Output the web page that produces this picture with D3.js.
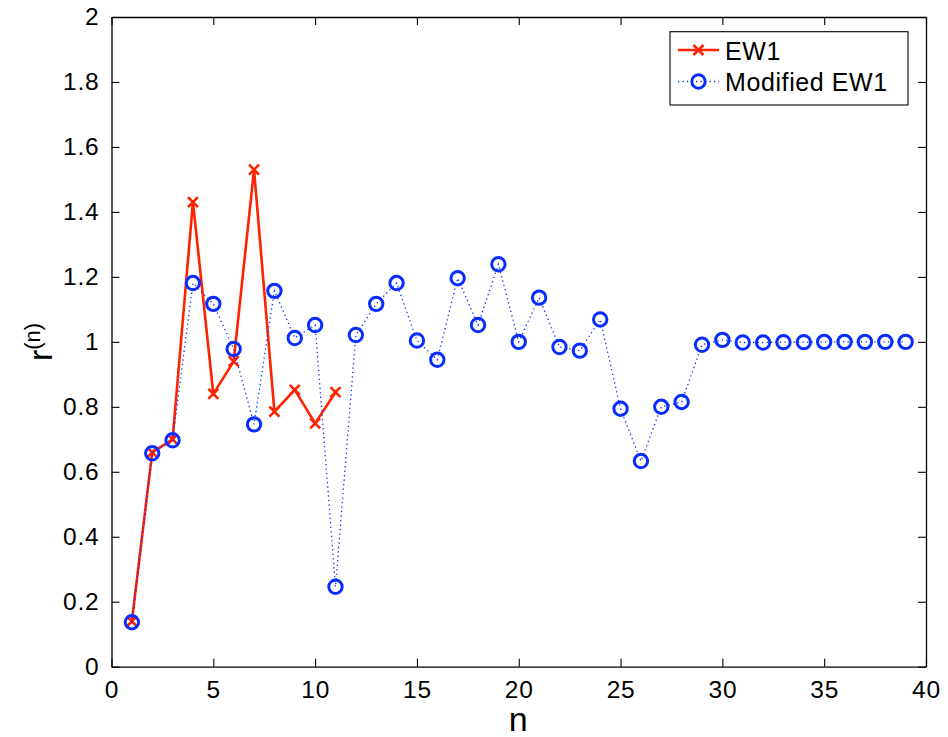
<!DOCTYPE html>
<html>
<head>
<meta charset="utf-8">
<script src="https://cdn.jsdelivr.net/npm/d3@7"></script>
<style>
  html, body { margin: 0; padding: 0; background: #fff; }
  svg { display: block; font-family: "Liberation Sans", Arial, Helvetica, sans-serif; }
</style>
</head>
<body>
<svg id="chart" width="948" height="737"></svg>
<script>
// Iteration index and ratio values for both methods
const ew1N = [1, 2, 3, 4, 5, 6, 7, 8, 9, 10, 11];
const ew1R = [0.14, 0.66, 0.70, 1.43, 0.84, 0.94, 1.53, 0.785, 0.852, 0.749, 0.845];

const modN = [1, 2, 3, 4, 5, 6, 7, 8, 9, 10, 11, 12, 13, 14, 15, 16, 17, 18, 19, 20,
              21, 22, 23, 24, 25, 26, 27, 28, 29, 30, 31, 32, 33, 34, 35, 36, 37, 38, 39];
const modR = [0.137, 0.657, 0.697, 1.181, 1.117, 0.978, 0.746, 1.157, 1.012, 1.052,
              0.246, 1.021, 1.117, 1.181, 1.004, 0.945, 1.196, 1.052, 1.239, 1.0,
              1.136, 0.984, 0.973, 1.069, 0.794, 0.633, 0.800, 0.815, 0.991, 1.006,
              0.998, 0.998, 0.999, 0.999, 1.0, 1.0, 1.0, 1.0, 1.0];

const xTicks = [0, 5, 10, 15, 20, 25, 30, 35, 40];
const yTicks = [0, 0.2, 0.4, 0.6, 0.8, 1, 1.2, 1.4, 1.6, 1.8, 2];
const legendLabels = ["EW1", "Modified EW1"];

const RED = "#ff2200";
const BLUE = "#0a2dff";

const svg = d3.select("#chart");
const plotL = 111.5, plotR = 926, plotT = 17, plotB = 666.7;

const x = d3.scaleLinear().domain([0, 40]).range([plotL, plotR]);
const y = d3.scaleLinear().domain([0, 2]).range([plotB, plotT]);

const tickLen = 8;
const fmt = d => (d === 0 || d === 1 || d === 2) ? String(d) : d3.format(".1f")(d);

// Axes on all four sides, ticks pointing inward
const gB = svg.append("g").attr("transform", `translate(0,${plotB})`)
  .call(d3.axisBottom(x).tickValues(xTicks).tickSizeInner(-tickLen).tickSizeOuter(0).tickPadding(14).tickFormat(d3.format("d")));
const gT = svg.append("g").attr("transform", `translate(0,${plotT})`)
  .call(d3.axisTop(x).tickValues(xTicks).tickSizeInner(-tickLen).tickSizeOuter(0).tickFormat(""));
const gL = svg.append("g").attr("transform", `translate(${plotL},0)`)
  .call(d3.axisLeft(y).tickValues(yTicks).tickSizeInner(-tickLen).tickSizeOuter(0).tickPadding(12).tickFormat(fmt));
const gR = svg.append("g").attr("transform", `translate(${plotR},0)`)
  .call(d3.axisRight(y).tickValues(yTicks).tickSizeInner(-tickLen).tickSizeOuter(0).tickFormat(""));

[gB, gT, gL, gR].forEach(g => {
  g.select(".domain").attr("stroke", "#000").attr("stroke-width", 1.3);
  g.selectAll(".tick line").attr("stroke", "#000").attr("stroke-width", 1.1);
  g.selectAll(".tick text").attr("fill", "#000").style("font-size", "24.5px").style("letter-spacing", "0.8px");
});
gB.selectAll(".tick text").attr("dy", "0.71em");

const xm = 5;
const crossPath = (cx, cy) => `M${cx - xm},${cy - xm}L${cx + xm},${cy + xm}M${cx - xm},${cy + xm}L${cx + xm},${cy - xm}`;

// Red solid series with x markers
const lineEw = d3.line().x((d, i) => x(ew1N[i])).y(d => y(d));
svg.append("path")
  .datum(ew1R)
  .attr("d", lineEw)
  .attr("fill", "none")
  .attr("stroke", RED)
  .attr("stroke-width", 2.6)
  .attr("stroke-linejoin", "round");

svg.append("g").selectAll("path")
  .data(ew1R)
  .join("path")
  .attr("d", (d, i) => crossPath(x(ew1N[i]), y(d)))
  .attr("stroke", RED)
  .attr("stroke-width", 2.6);

// Blue dotted series with circle markers, drawn on top
const lineMod = d3.line().x((d, i) => x(modN[i])).y(d => y(d));
svg.append("path")
  .datum(modR)
  .attr("d", lineMod)
  .attr("fill", "none")
  .attr("stroke", BLUE)
  .attr("stroke-width", 1.3)
  .attr("stroke-dasharray", "1.3,3.2");

svg.append("g").selectAll("circle")
  .data(modR)
  .join("circle")
  .attr("cx", (d, i) => x(modN[i]))
  .attr("cy", d => y(d))
  .attr("r", 6.7)
  .attr("fill", "none")
  .attr("stroke", BLUE)
  .attr("stroke-width", 3);

// Axis titles
svg.append("text")
  .attr("x", (plotL + plotR) / 2 - 0.5)
  .attr("y", 731)
  .attr("text-anchor", "middle")
  .style("font-size", "34px")
  .text("n");

const yLab = svg.append("text")
  .attr("transform", "translate(52,342) rotate(-90)")
  .attr("text-anchor", "middle")
  .style("font-size", "34px");
yLab.append("tspan").text("r");
yLab.append("tspan").attr("dy", "-0.55em").style("font-size", "22px").text("(n)");

// Legend
const lg = svg.append("g");
lg.append("rect")
  .attr("x", 670).attr("y", 31.7).attr("width", 238).attr("height", 73.3)
  .attr("fill", "#fff").attr("stroke", "#000").attr("stroke-width", 1.1);

const ly = [50, 81.5];
lg.append("line").attr("x1", 678).attr("x2", 719).attr("y1", ly[0]).attr("y2", ly[0])
  .attr("stroke", RED).attr("stroke-width", 2.6);
lg.append("path").attr("d", crossPath(698.5, ly[0])).attr("stroke", RED).attr("stroke-width", 2.6);
lg.append("line").attr("x1", 678).attr("x2", 719).attr("y1", ly[1]).attr("y2", ly[1])
  .attr("stroke", BLUE).attr("stroke-width", 1.3).attr("stroke-dasharray", "1.3,3.2");
lg.append("circle").attr("cx", 698.5).attr("cy", ly[1]).attr("r", 6.7)
  .attr("fill", "none").attr("stroke", BLUE).attr("stroke-width", 3);

lg.selectAll("text.lab")
  .data(legendLabels)
  .join("text")
  .attr("class", "lab")
  .attr("x", 725)
  .attr("y", (d, i) => ly[i] + 9.5)
  .style("font-size", "25px")
  .style("letter-spacing", "0.6px")
  .text(d => d);
</script>
</body>
</html>
